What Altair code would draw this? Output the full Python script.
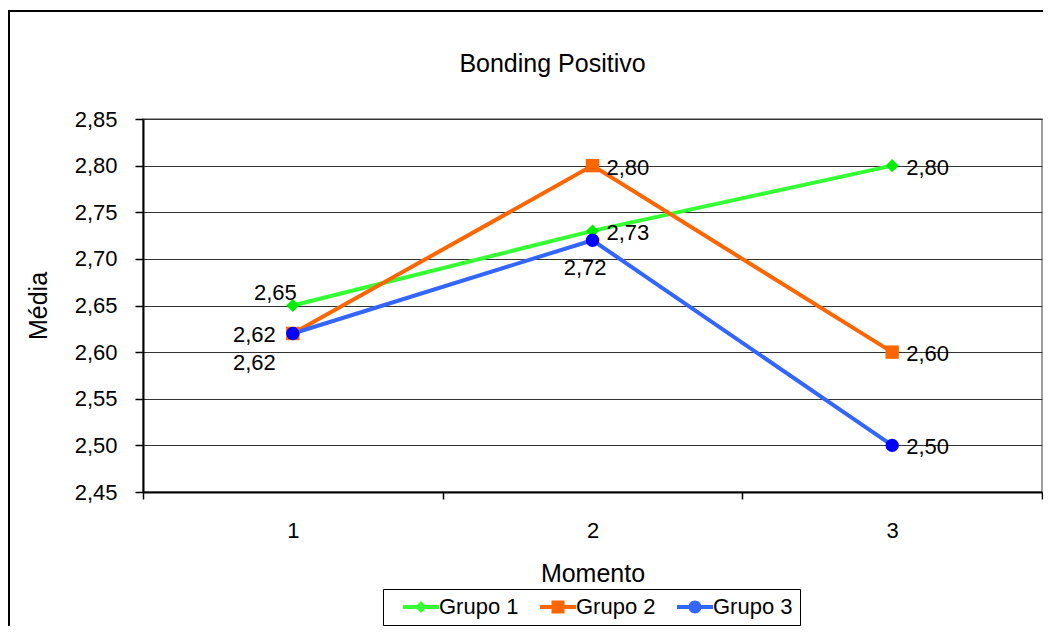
import altair as alt
import pandas as pd

# ---- data ----
groups = ["Grupo 1", "Grupo 2", "Grupo 3"]
moments = [1, 2, 3]
grupo1 = [2.65, 2.73, 2.80]
grupo2 = [2.62, 2.80, 2.60]
grupo3 = [2.62, 2.72, 2.50]
place1 = ["above", "right", "right"]
place2 = ["left", "right", "right"]
place3 = ["below_left", "below", "right"]
y_ticks = [2.45, 2.50, 2.55, 2.60, 2.65, 2.70, 2.75, 2.80, 2.85]

line_colors = ["#33FF33", "#FF6600", "#3366FF"]
marker_colors = ["#00EE00", "#FF6600", "#0000FF"]
marker_shapes = ["diamond", "square", "circle"]
marker_sizes = [170, 180, 180]

legend_paths = [
    "M-1.8,-0.2H1.8V0.2H-1.8Z M0,-0.6L0.6,0L0,0.6L-0.6,0Z",
    "M-1.8,-0.2H1.8V0.2H-1.8Z M-0.65,-0.65H0.65V0.65H-0.65Z",
    "M-1.8,-0.2H1.8V0.2H-1.8Z M-0.65,0A0.65,0.65 0 1,1 0.65,0A0.65,0.65 0 1,1 -0.65,0Z",
]

rows = []
for g, vals, places in zip(groups, [grupo1, grupo2, grupo3], [place1, place2, place3]):
    for m, v, p in zip(moments, vals, places):
        rows.append({"Grupo": g, "Momento": m, "Media": v, "Place": p})
df = pd.DataFrame(rows)

FONT = "Liberation Sans"

x_scale = alt.Scale(type="band", paddingInner=0, paddingOuter=0)
y_scale = alt.Scale(domain=[2.45, 2.85], nice=False, zero=False)

x_axis = alt.Axis(
    title="Momento", labelAngle=0, tickBand="extent", tickSize=7, tickColor="black",
    tickWidth=1.5, domainColor="black", domainWidth=2, labelFont=FONT, labelFontSize=22,
    labelColor="black", labelPadding=21, titleFont=FONT, titleFontSize=25,
    titleFontWeight="normal", titleColor="black", titlePadding=20, grid=False,
)
y_axis = alt.Axis(
    title="Média", values=y_ticks,
    labelExpr="replace(format(datum.value, '.2f'), '.', ',')",
    tickSize=8, tickColor="black", tickWidth=1.5, domainColor="black", domainWidth=2,
    labelFont=FONT, labelFontSize=22, labelColor="black", labelPadding=18,
    titleFont=FONT, titleFontSize=25, titleFontWeight="normal", titleColor="black",
    titlePadding=23, grid=True, gridColor="#333333", gridWidth=1,
)

X = alt.X("Momento:O", scale=x_scale, axis=x_axis)
Y = alt.Y("Media:Q", scale=y_scale, axis=y_axis)

legend_spec = dict(
    title=None, orient="none", legendX=240, legendY=470, direction="horizontal",
    strokeColor="black", padding=7, symbolSize=400,
    symbolOffset=20, labelOffset=7, columnPadding=8, labelFont=FONT,
    labelFontSize=22, labelColor="black", symbolOpacity=1, symbolStrokeWidth=0,
)

base = alt.Chart(df)

lines = []
for g, c in zip(groups, line_colors):
    lines.append(
        base.transform_filter(alt.datum.Grupo == g)
        .mark_line(strokeWidth=4, color=c)
        .encode(x=X, y=Y)
    )

legend_layer = base.mark_point(filled=True, opacity=0).encode(
    x=X, y=Y,
    color=alt.Color("Grupo:N", scale=alt.Scale(domain=groups, range=line_colors),
                    legend=alt.Legend(**legend_spec)),
    shape=alt.Shape("Grupo:N", scale=alt.Scale(domain=groups, range=legend_paths),
                    legend=alt.Legend(**legend_spec)),
)

markers = []
for g, c, s, sz in zip(groups, marker_colors, marker_shapes, marker_sizes):
    markers.append(
        base.transform_filter(alt.datum.Grupo == g)
        .mark_point(filled=True, shape=s, size=sz, color=c, opacity=1)
        .encode(x=X, y=Y)
    )

label_specs = {
    "right": dict(align="left", dx=14, dy=2),
    "left": dict(align="right", dx=-17, dy=2),
    "above": dict(align="right", dx=4, dy=-13),
    "below_left": dict(align="right", dx=-17, dy=30),
    "below": dict(align="right", dx=14, dy=28),
}
texts = []
for p, spec in label_specs.items():
    texts.append(
        base.transform_filter(alt.datum.Place == p)
        .transform_calculate(label="replace(format(datum.Media, '.2f'), '.', ',')")
        .mark_text(baseline="middle", font=FONT, fontSize=22, color="black", **spec)
        .encode(x=X, y=Y, text="label:N")
    )

frame = alt.Chart(alt.Data(values=[{"k": 1}]))
border_left = frame.mark_rule(color="black", strokeWidth=2).encode(
    x=alt.value(-134), y=alt.value(-108), y2=alt.value(700))
border_top = frame.mark_rule(color="black", strokeWidth=2).encode(
    x=alt.value(-135), x2=alt.value(1000), y=alt.value(-108))

chart = alt.layer(
    *lines, legend_layer, *markers, *texts, border_left, border_top
).properties(
    width=899, height=373,
    title=alt.Title("Bonding Positivo", font=FONT, fontSize=25, fontWeight="normal",
                    color="black", anchor="middle", dx=-40, offset=-67),
    autosize=alt.AutoSizeParams(type="none"),
    padding={"left": 135, "top": 111, "right": 1, "bottom": 134},
    background="white",
).configure_view(
    stroke="#808080", strokeWidth=1.5
)

chart.save("out.html", embed_options={"renderer": "svg", "actions": False})
